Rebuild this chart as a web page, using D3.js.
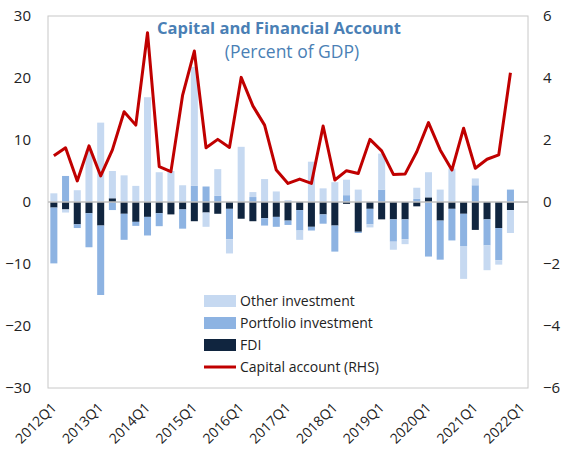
<!DOCTYPE html>
<html>
<head>
<meta charset="utf-8">
<script src="https://cdn.jsdelivr.net/npm/d3@7"></script>
<style>
  html, body { margin: 0; padding: 0; background: #fff; }
  svg { display: block; font-family: "Open Sans", "Noto Sans", sans-serif; }
</style>
</head>
<body>
<svg id="chart" width="562" height="451"></svg>
<script>
const quarters = [];
for (let y = 2012; y <= 2022; y++) for (let q = 1; q <= 4; q++) { if (y === 2022 && q > 1) break; quarters.push(y + "Q" + q); }

const fdi = [-0.9,-1.2,-3.6,-1.8,-3.8,0.6,-1.9,-3.2,-2.4,-1.8,-2.0,-1.2,-3.1,-1.7,-1.9,-1.1,-2.7,-3.1,-2.6,-2.4,
             -3.0,-1.3,-4.0,-2.0,-3.8,-0.3,-4.8,-1.1,-2.8,-2.8,-2.8,-0.7,0.75,-3.0,-1.1,-1.9,-4.5,-2.8,-4.2,-1.3];
const portfolio = [-9.0,4.2,-0.6,-5.5,-11.2,-1.3,-4.2,-0.65,-3.0,-2.1,0,-3.1,2.6,2.5,1.0,-4.9,0,0.8,-1.2,-1.6,
             -0.7,-3.3,-0.6,-1.5,-4.2,1.1,-0.2,-2.5,2.0,-3.6,-3.2,0.5,-8.8,-6.3,-5.1,-5.2,2.7,-4.2,-5.2,2.0];
const other = [1.4,-0.5,1.9,8.3,12.8,4.4,4.3,2.6,16.9,4.8,5.0,2.7,19.2,-2.3,4.3,-2.3,8.9,0.8,3.7,1.7,
             0.3,-1.5,6.5,2.2,3.2,2.5,2.0,-0.5,5.8,-1.3,-0.8,1.8,4.05,2.0,5.4,-5.3,1.1,-4.0,-0.7,-3.7];
const capitalAccount = [1.49,1.75,0.68,1.81,0.84,1.68,2.91,2.48,5.46,1.14,0.98,3.45,4.87,1.75,2.02,1.76,4.02,3.1,2.48,1.03,
             0.6,0.74,0.6,2.45,0.71,1.01,0.92,2.02,1.65,0.89,0.9,1.62,2.56,1.68,1.03,2.38,1.09,1.38,1.52,4.17];

const leftTicks = [-30,-20,-10,0,10,20,30];
const rightTicks = [-6,-4,-2,0,2,4,6];
const xTickLabels = quarters.filter(q => q.endsWith("Q1"));

const seriesKeys = ["FDI", "Portfolio investment", "Other investment"];
const colors = { "FDI": "#10253f", "Portfolio investment": "#8db3e2", "Other investment": "#c6d9f1" };
const lineColor = "#c00000";

const rows = fdi.map((v, i) => ({ q: quarters[i], "FDI": v, "Portfolio investment": portfolio[i], "Other investment": other[i] }));

const svg = d3.select("#chart");
const L = 48, R = 528, T = 16, B = 388;

const x = d3.scaleBand().domain(quarters).range([L, R]).paddingInner(0.4).paddingOuter(0.2);
const y = d3.scaleLinear().domain([-30, 30]).range([B, T]);
const y2 = d3.scaleLinear().domain([-6, 6]).range([B, T]);

// frame
svg.append("rect").attr("x", L).attr("y", T).attr("width", R - L).attr("height", B - T)
  .attr("fill", "none").attr("stroke", "#c8c8c8").attr("stroke-width", 1);

const stack = d3.stack().keys(seriesKeys).offset(d3.stackOffsetDiverging);
const stacked = stack(rows);

svg.append("g").selectAll("g").data(stacked).join("g")
  .attr("fill", d => colors[d.key])
  .selectAll("rect").data(d => d).join("rect")
  .attr("x", d => x(d.data.q))
  .attr("width", x.bandwidth())
  .attr("y", d => y(Math.max(d[0], d[1])))
  .attr("height", d => Math.abs(y(d[0]) - y(d[1])));

// zero line
svg.append("line").attr("x1", L).attr("x2", R).attr("y1", y(0)).attr("y2", y(0))
  .attr("stroke", "#bfbfbf").attr("stroke-width", 1.5);

// line
const line = d3.line().x((d, i) => x(quarters[i]) + x.bandwidth() / 2).y(d => y2(d));
svg.append("path").datum(capitalAccount).attr("d", line)
  .attr("fill", "none").attr("stroke", lineColor).attr("stroke-width", 3).attr("stroke-linejoin", "round");

// left axis
const axL = svg.append("g").attr("transform", `translate(${L},0)`)
  .call(d3.axisLeft(y).tickValues(leftTicks).tickSize(0).tickPadding(17));
axL.select(".domain").remove();
axL.selectAll("text").attr("font-size", 15).attr("fill", "#222").attr("font-family", "Open Sans, sans-serif");

// right axis
const axR = svg.append("g").attr("transform", `translate(${R},0)`)
  .call(d3.axisRight(y2).tickValues(rightTicks).tickSize(0).tickPadding(15));
axR.select(".domain").remove();
axR.selectAll("text").attr("font-size", 15).attr("fill", "#222").attr("font-family", "Open Sans, sans-serif");

// x axis labels
const axB = svg.append("g").attr("transform", `translate(0,${B})`)
  .call(d3.axisBottom(x).tickValues(xTickLabels).tickSize(0).tickPadding(0));
axB.select(".domain").remove();
axB.selectAll("text")
  .attr("font-size", 14).attr("fill", "#222").attr("font-family", "Open Sans, sans-serif")
  .attr("text-anchor", "end")
  .attr("transform", "translate(0,17) rotate(-45)")
  .attr("dy", "0.35em").attr("y", 0).attr("x", 0);

// title
svg.append("text").attr("x", 279).attr("y", 34).attr("text-anchor", "middle")
  .attr("font-size", 16.5).attr("font-weight", "bold").attr("fill", "#4a7fb5")
  .text("Capital and Financial Account");
svg.append("text").attr("x", 292).attr("y", 58).attr("text-anchor", "middle")
  .attr("font-size", 17.5).attr("fill", "#4a7fb5")
  .text("(Percent of GDP)");

// legend
const legendItems = [
  { label: "Other investment", type: "rect", color: colors["Other investment"] },
  { label: "Portfolio investment", type: "rect", color: colors["Portfolio investment"] },
  { label: "FDI", type: "rect", color: colors["FDI"] },
  { label: "Capital account (RHS)", type: "line", color: lineColor }
];
const lg = svg.append("g");
legendItems.forEach((d, i) => {
  const cy = 301 + i * 22;
  if (d.type === "rect") {
    lg.append("rect").attr("x", 204).attr("y", cy - 6).attr("width", 32).attr("height", 12).attr("fill", d.color);
  } else {
    lg.append("line").attr("x1", 204).attr("x2", 236).attr("y1", cy).attr("y2", cy)
      .attr("stroke", d.color).attr("stroke-width", 3);
  }
  lg.append("text").attr("x", 240).attr("y", cy).attr("dy", "0.35em")
    .attr("font-size", 14).attr("fill", "#222").text(d.label);
});
</script>
</body>
</html>
